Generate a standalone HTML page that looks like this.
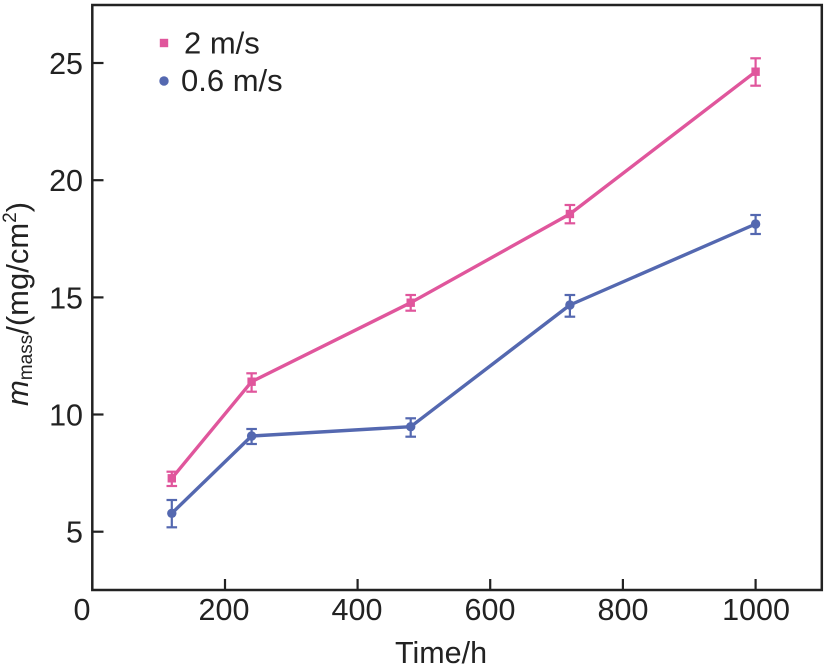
<!DOCTYPE html>
<html>
<head>
<meta charset="utf-8">
<style>
  html, body { margin: 0; padding: 0; background: #ffffff; }
  body { width: 828px; height: 670px; overflow: hidden; }
  svg { display: block; font-family: "Liberation Sans", Arial, sans-serif; }
</style>
</head>
<body>
<svg width="828" height="670" viewBox="0 0 828 670" xmlns="http://www.w3.org/2000/svg">
  <rect x="0" y="0" width="828" height="670" fill="#ffffff"/>

  <!-- axes frame -->
  <rect x="92.3" y="5" width="729.5" height="585" fill="none" stroke="#222222" stroke-width="2.5"/>

  <!-- y ticks (inward) -->
  <g stroke="#222222" stroke-width="2.2">
    <line x1="92.3" y1="531.7" x2="103.5" y2="531.7"/>
    <line x1="92.3" y1="414.5" x2="103.5" y2="414.5"/>
    <line x1="92.3" y1="297.4" x2="103.5" y2="297.4"/>
    <line x1="92.3" y1="180.2" x2="103.5" y2="180.2"/>
    <line x1="92.3" y1="63" x2="103.5" y2="63"/>
  </g>
  <!-- x ticks (inward) -->
  <g stroke="#222222" stroke-width="2.2">
    <line x1="225" y1="590" x2="225" y2="579"/>
    <line x1="357.6" y1="590" x2="357.6" y2="579"/>
    <line x1="490.2" y1="590" x2="490.2" y2="579"/>
    <line x1="622.9" y1="590" x2="622.9" y2="579"/>
    <line x1="755.6" y1="590" x2="755.6" y2="579"/>
  </g>

  <!-- y tick labels -->
  <g font-size="30.5" fill="#222222" text-anchor="end">
    <text x="83" y="542.7">5</text>
    <text x="83" y="425.5">10</text>
    <text x="83" y="308.4">15</text>
    <text x="83" y="191.2">20</text>
    <text x="83" y="74">25</text>
  </g>
  <!-- x tick labels -->
  <g font-size="30.5" fill="#222222" text-anchor="middle">
    <text x="82" y="620">0</text>
    <text x="224" y="620">200</text>
    <text x="357" y="620">400</text>
    <text x="490" y="620">600</text>
    <text x="623" y="620">800</text>
    <text x="756" y="620">1000</text>
  </g>

  <!-- axis labels -->
  <text x="395" y="663" font-size="30.5" fill="#222222">Time/h</text>
  <text transform="translate(28,304) rotate(-90)" text-anchor="middle" font-size="31" fill="#222222"><tspan font-style="italic">m</tspan><tspan font-size="19" dy="4">mass</tspan><tspan dy="-4">/(mg/cm</tspan><tspan font-size="19" dy="-12">2</tspan><tspan dy="12">)</tspan></text>

  <!-- Pink series: 2 m/s -->
  <g stroke="#E0569C" fill="none">
    <polyline stroke-width="3.4" stroke-linejoin="round" points="171.8,478.3 251.6,381.7 410.7,302.7 569.9,214 755.6,71.7"/>
    <g stroke-width="2.2">
      <line x1="171.8" y1="471.7" x2="171.8" y2="486"/>
      <line x1="166.5" y1="471.7" x2="177.1" y2="471.7"/>
      <line x1="166.5" y1="486" x2="177.1" y2="486"/>

      <line x1="251.6" y1="373.3" x2="251.6" y2="391.7"/>
      <line x1="246.3" y1="373.3" x2="256.9" y2="373.3"/>
      <line x1="246.3" y1="391.7" x2="256.9" y2="391.7"/>

      <line x1="410.7" y1="295" x2="410.7" y2="310.7"/>
      <line x1="405.4" y1="295" x2="416" y2="295"/>
      <line x1="405.4" y1="310.7" x2="416" y2="310.7"/>

      <line x1="569.9" y1="205" x2="569.9" y2="223.3"/>
      <line x1="564.6" y1="205" x2="575.2" y2="205"/>
      <line x1="564.6" y1="223.3" x2="575.2" y2="223.3"/>

      <line x1="755.6" y1="58.3" x2="755.6" y2="85.7"/>
      <line x1="750.3" y1="58.3" x2="760.9" y2="58.3"/>
      <line x1="750.3" y1="85.7" x2="760.9" y2="85.7"/>
    </g>
  </g>
  <g fill="#E0569C">
    <rect x="167.6" y="474.1" width="8.4" height="8.4"/>
    <rect x="247.4" y="377.5" width="8.4" height="8.4"/>
    <rect x="406.5" y="298.5" width="8.4" height="8.4"/>
    <rect x="565.7" y="209.8" width="8.4" height="8.4"/>
    <rect x="751.4" y="67.5" width="8.4" height="8.4"/>
  </g>

  <!-- Blue series: 0.6 m/s -->
  <g stroke="#5468B0" fill="none">
    <polyline stroke-width="3.4" stroke-linejoin="round" points="171.8,513.3 251.6,436 410.7,426.7 569.9,305 755.6,224"/>
    <g stroke-width="2.2">
      <line x1="171.8" y1="500" x2="171.8" y2="527.3"/>
      <line x1="166.5" y1="500" x2="177.1" y2="500"/>
      <line x1="166.5" y1="527.3" x2="177.1" y2="527.3"/>

      <line x1="251.6" y1="429" x2="251.6" y2="444"/>
      <line x1="246.3" y1="429" x2="256.9" y2="429"/>
      <line x1="246.3" y1="444" x2="256.9" y2="444"/>

      <line x1="410.7" y1="418.3" x2="410.7" y2="436.7"/>
      <line x1="405.4" y1="418.3" x2="416" y2="418.3"/>
      <line x1="405.4" y1="436.7" x2="416" y2="436.7"/>

      <line x1="569.9" y1="295" x2="569.9" y2="316.7"/>
      <line x1="564.6" y1="295" x2="575.2" y2="295"/>
      <line x1="564.6" y1="316.7" x2="575.2" y2="316.7"/>

      <line x1="755.6" y1="215" x2="755.6" y2="234"/>
      <line x1="750.3" y1="215" x2="760.9" y2="215"/>
      <line x1="750.3" y1="234" x2="760.9" y2="234"/>
    </g>
  </g>
  <g fill="#5468B0">
    <circle cx="171.8" cy="513.3" r="4.7"/>
    <circle cx="251.6" cy="436" r="4.7"/>
    <circle cx="410.7" cy="426.7" r="4.7"/>
    <circle cx="569.9" cy="305" r="4.7"/>
    <circle cx="755.6" cy="224" r="4.7"/>
  </g>

  <!-- Legend -->
  <rect x="159.8" y="38.8" width="8.4" height="8.4" fill="#E0569C"/>
  <text x="184" y="53.5" font-size="31" fill="#222222">2 m/s</text>
  <circle cx="164" cy="81" r="4.7" fill="#5468B0"/>
  <text x="181" y="91" font-size="31" fill="#222222">0.6 m/s</text>
</svg>
</body>
</html>
